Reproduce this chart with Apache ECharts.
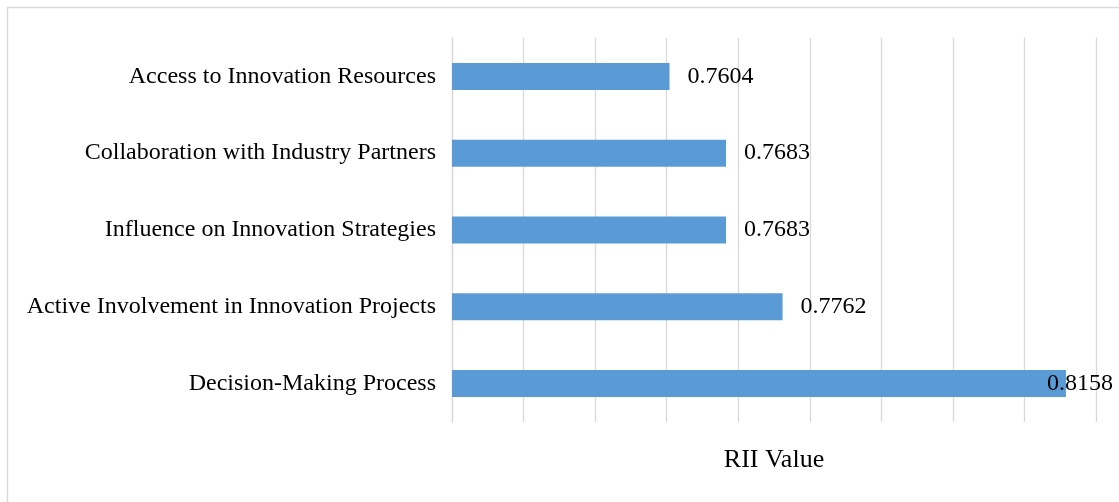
<!DOCTYPE html>
<html>
<head>
<meta charset="utf-8">
<script src="https://cdn.jsdelivr.net/npm/echarts@6/dist/echarts.min.js"></script>
<style>
  html, body { margin: 0; padding: 0; background: #fff; }
  #chart { width: 1119px; height: 502px; }
</style>
</head>
<body>
<div id="chart"></div>
<script>
const categories = [
  'Access to Innovation Resources',
  'Collaboration with Industry Partners',
  'Influence on Innovation Strategies',
  'Active Involvement in Innovation Projects',
  'Decision-Making Process'
];
const riiValues = [0.7604, 0.7683, 0.7683, 0.7762, 0.8158];
const axisMin = 0.73;
const axisMax = 0.82;
const axisStep = 0.01;

const chart = echarts.init(document.getElementById('chart'));
const font = '"Liberation Serif", "Times New Roman", serif';

// last bar runs off the right so its label slides back over the bar end
const barData = riiValues.map((v, i) => {
  const item = {value: v};
  if (i === riiValues.length - 1) {
    item.label = {offset: [-37, 0]};
  }
  return item;
});

chart.setOption({
  animation: false,
  backgroundColor: '#fff',
  graphic: [{
    type: 'rect',
    shape: {x: 7.5, y: 7.5, width: 1140, height: 520},
    style: {fill: 'none', stroke: '#d9d9d9', lineWidth: 1.5},
    silent: true
  }],
  grid: {left: 452, right: 23, top: 38, bottom: 80},
  xAxis: {
    type: 'value',
    min: axisMin,
    max: axisMax,
    interval: axisStep,
    axisLabel: {show: false},
    axisLine: {show: false},
    axisTick: {show: false},
    splitLine: {lineStyle: {color: '#d9d9d9', width: 1.3}},
    name: 'RII Value',
    nameLocation: 'middle',
    nameGap: 25,
    nameTextStyle: {fontFamily: font, fontSize: 26, color: '#000'}
  },
  yAxis: {
    type: 'category',
    inverse: true,
    data: categories,
    axisLine: {show: true, lineStyle: {color: '#d9d9d9', width: 1.3}},
    axisTick: {show: false},
    axisLabel: {fontFamily: font, fontSize: 24, color: '#000', margin: 16}
  },
  series: [{
    type: 'bar',
    data: barData,
    barWidth: 27,
    itemStyle: {color: '#5b9bd5'},
    label: {
      show: true,
      position: 'right',
      distance: 18,
      fontFamily: font,
      fontSize: 24,
      color: '#000',
      formatter: p => p.value.toFixed(4)
    }
  }]
});
</script>
</body>
</html>
